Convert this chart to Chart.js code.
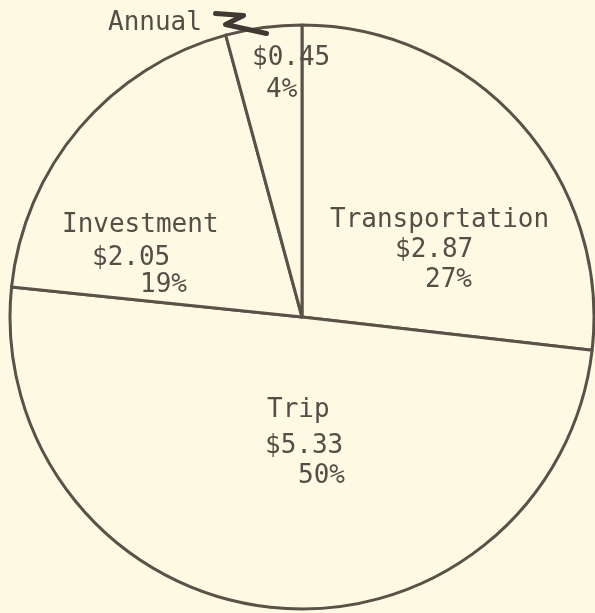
<!DOCTYPE html>
<html>
<head>
<meta charset="utf-8">
<script src="https://cdn.jsdelivr.net/npm/chart.js@4/dist/chart.umd.min.js"></script>
<style>
  html, body { margin: 0; padding: 0; background: #fdf9e2; }
  canvas { display: block; }
</style>
</head>
<body>
<canvas id="pieChart" width="595" height="613"></canvas>
<script>
// categories, clockwise from the top
const categories = ['Transportation', 'Trip', 'Investment', 'Annual'];
// dollar amounts
const amounts = [2.87, 5.33, 2.05, 0.45];

const total = amounts.reduce((a, b) => a + b, 0);
const moneyLabels = amounts.map(v => '$' + v.toFixed(2));
const pctLabels = amounts.map(v => Math.round(v / total * 100) + '%');

// typed lines: offset of each line (left, baseline) from the pie centre
const lineOffsets = [
    [[28, -90], [93, -60], [123, -30]],
    [[-35, 100], [-37, 136], [-4, 166]],
    [[-240, -85], [-210, -52], [-162, -25]],
    [[-194, -287], [-50, -252], [-36, -220]]
];

const ink = '#5a5148';
const paper = '#fdf9e2';

// typewriter labels + the little pointer to the Annual slice
const typedLabels = {
    id: 'typedLabels',
    afterDatasetsDraw(chart) {
        const c = chart.ctx;
        const arcs = chart.getDatasetMeta(0).data;
        const cx = arcs[0].x, cy = arcs[0].y;
        c.save();
        c.font = "26px 'DejaVu Sans Mono', monospace";
        c.fillStyle = '#544e47';
        c.textAlign = 'left';
        c.textBaseline = 'alphabetic';
        categories.forEach((name, i) => {
            const texts = [name, moneyLabels[i], pctLabels[i]];
            texts.forEach((t, j) => {
                const o = lineOffsets[i][j];
                c.fillText(t, cx + o[0], cy + o[1]);
            });
        });

        // pointer mark from "Annual" to its slice
        const a = arcs[3];
        const mid = (a.startAngle + a.endAngle) / 2;
        const px = a.x + Math.cos(mid) * a.outerRadius;
        const py = a.y + Math.sin(mid) * a.outerRadius;
        c.strokeStyle = '#3f3934';
        c.lineWidth = 5;
        c.lineCap = 'round';
        c.lineJoin = 'round';
        c.beginPath();
        c.moveTo(px - 48, py - 14);
        c.lineTo(px - 20, py - 12);
        c.lineTo(px - 38, py - 3);
        c.lineTo(px + 3, py + 6);
        c.stroke();
        c.restore();
    }
};

const ctx = document.getElementById('pieChart').getContext('2d');
const pieChart = new Chart(ctx, {
    type: 'pie',
    data: {
        labels: categories,
        datasets: [{
            data: amounts,
            backgroundColor: paper,
            borderColor: ink,
            borderWidth: 3,
            borderJoinStyle: 'round',
            radius: 292
        }]
    },
    options: {
        responsive: false,
        animation: false,
        rotation: 0,
        layout: { padding: { left: 9, top: 21 } },
        plugins: {
            legend: { display: false },
            tooltip: { enabled: false }
        }
    },
    plugins: [typedLabels]
});
</script>
</body>
</html>
